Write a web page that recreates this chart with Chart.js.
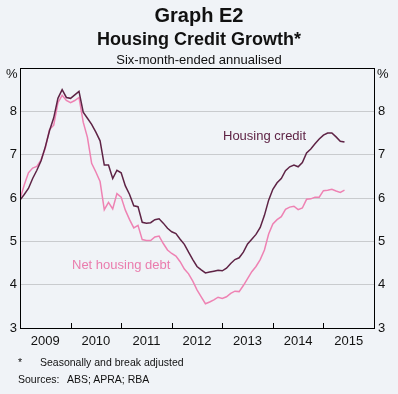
<!DOCTYPE html>
<html>
<head>
<meta charset="utf-8">
<script src="https://cdn.jsdelivr.net/npm/chart.js@4"></script>
<style>
  html, body { margin: 0; padding: 0; background: #f0f3f7; }
  #wrap { position: relative; width: 398px; height: 394px; font-family: "Liberation Sans", Arial, sans-serif; color: #111; }
  #chart { position: absolute; left: 0; top: 0; }
  .t { position: absolute; white-space: nowrap; line-height: 1; }
  .c { left: 0; width: 398px; text-align: center; }
</style>
</head>
<body>
<div id="wrap">
  <canvas id="chart" width="398" height="394"></canvas>
  <div class="t c" style="top:5px;font-size:20px;font-weight:bold;">Graph E2</div>
  <div class="t c" style="top:30px;font-size:18px;font-weight:bold;">Housing Credit Growth*</div>
  <div class="t c" style="top:53px;font-size:13px;">Six-month-ended annualised</div>
  <div class="t" style="top:67px;left:6px;font-size:13px;">%</div>
  <div class="t" style="top:67px;left:377px;font-size:13px;">%</div>
  <div class="t" style="top:129px;left:223px;font-size:13px;color:#5e2345;">Housing credit</div>
  <div class="t" style="top:258px;left:72px;font-size:13px;color:#ea7cad;">Net housing debt</div>
  <div class="t" style="top:357px;left:18px;font-size:10.5px;">*</div>
  <div class="t" style="top:357px;left:40px;font-size:10.5px;">Seasonally and break adjusted</div>
  <div class="t" style="top:374px;left:18px;font-size:10.5px;">Sources:</div>
  <div class="t" style="top:374px;left:67px;font-size:10.5px;">ABS; APRA; RBA</div>
</div>
<script>
// Monthly data, Jan 2009 to Jun 2015 (six-month-ended annualised, %)
const housingCredit = [
  5.95, 6.08, 6.22, 6.45, 6.64, 6.86, 7.18, 7.55, 7.85, 8.30, 8.50, 8.32,
  8.30, 8.38, 8.46, 7.98, 7.84, 7.70, 7.52, 7.32, 6.76, 6.76, 6.45, 6.64,
  6.58, 6.28, 6.08, 5.82, 5.80, 5.44, 5.42, 5.43, 5.50, 5.52, 5.42, 5.30,
  5.22, 5.18, 5.05, 4.93, 4.75, 4.58, 4.42, 4.34, 4.27, 4.29, 4.31, 4.33,
  4.32, 4.38, 4.49, 4.58, 4.62, 4.75, 4.94, 5.05, 5.16, 5.32, 5.60, 5.95,
  6.20, 6.35, 6.45, 6.63, 6.72, 6.76, 6.72, 6.82, 7.04, 7.13, 7.25, 7.36,
  7.45, 7.50, 7.50, 7.41, 7.31, 7.29
];
const netHousingDebt = [
  5.97, 6.30, 6.58, 6.69, 6.73, 6.88, 7.15, 7.58, 7.68, 8.20, 8.37, 8.25,
  8.20, 8.25, 8.32, 7.75, 7.40, 6.80, 6.60, 6.38, 5.73, 5.90, 5.75, 6.10,
  6.02, 5.72, 5.50, 5.31, 5.37, 5.04, 5.02, 5.02, 5.10, 5.12, 4.95, 4.80,
  4.72, 4.66, 4.53, 4.36, 4.25, 4.08, 3.88, 3.72, 3.56, 3.60, 3.65, 3.71,
  3.68, 3.72, 3.80, 3.85, 3.84, 3.98, 4.14, 4.30, 4.42, 4.58, 4.80, 5.17,
  5.40, 5.50, 5.57, 5.74, 5.79, 5.81, 5.73, 5.77, 5.97, 5.98, 6.02, 6.02,
  6.17, 6.18, 6.20, 6.16, 6.13, 6.18
];
const years = ['2009', '2010', '2011', '2012', '2013', '2014', '2015'];
const yTicks = [3, 4, 5, 6, 7, 8, 9];

// months since Jan 2009
const toPoints = arr => arr.map((v, i) => ({ x: i, y: v }));
const yearMid = years.map((y, i) => i * 12 + 6);
const yearEdges = years.slice(1).map((y, i) => (i + 1) * 12);

const frame = {
  id: 'frame',
  afterDatasetsDraw(chart) {
    const { ctx, chartArea: a, scales } = chart;
    ctx.save();
    ctx.strokeStyle = '#000';
    ctx.lineWidth = 1;
    ctx.beginPath();
    yearEdges.forEach(m => {
      const px = Math.round(scales.x.getPixelForValue(m)) + 0.5;
      ctx.moveTo(px, a.bottom);
      ctx.lineTo(px, a.bottom - 5);
    });
    ctx.stroke();
    ctx.strokeRect(Math.round(a.left) + 0.5, Math.round(a.top) + 0.5,
      Math.round(a.right - a.left), Math.round(a.bottom - a.top));
    ctx.restore();
  }
};

const tickFont = { family: '"Liberation Sans", Arial, sans-serif', size: 13 };

new Chart(document.getElementById('chart'), {
  type: 'line',
  data: {
    datasets: [
      { label: 'Housing credit', data: toPoints(housingCredit), borderColor: '#5e2345', borderWidth: 1.5 },
      { label: 'Net housing debt', data: toPoints(netHousingDebt), borderColor: '#ee82b3', borderWidth: 1.5 }
    ]
  },
  options: {
    responsive: false,
    animation: false,
    parsing: false,
    layout: { padding: { top: 68, left: 0, right: 0, bottom: 46 } },
    elements: { point: { radius: 0 }, line: { tension: 0 } },
    plugins: { legend: { display: false }, tooltip: { enabled: false } },
    scales: {
      x: {
        type: 'linear',
        min: 0,
        max: 84,
        afterBuildTicks: s => { s.ticks = yearMid.map(v => ({ value: v })); },
        afterFit: s => { s.height = 20; },
        grid: { display: false, drawTicks: false },
        border: { display: false },
        ticks: {
          padding: 6,
          color: '#111',
          font: tickFont,
          maxRotation: 0,
          autoSkip: false,
          callback: v => years[yearMid.indexOf(v)]
        }
      },
      y: {
        position: 'left',
        min: 3,
        max: 9,
        afterBuildTicks: s => { s.ticks = yTicks.map(v => ({ value: v })); },
        afterFit: s => { s.width = 20; },
        grid: {
          drawTicks: false,
          color: c => (c.tick.value === 3 || c.tick.value === 9) ? 'rgba(0,0,0,0)' : '#c9cbce'
        },
        border: { display: false },
        ticks: { padding: 3, color: '#111', font: tickFont, callback: v => v === 9 ? '' : v }
      },
      y2: {
        position: 'right',
        min: 3,
        max: 9,
        afterBuildTicks: s => { s.ticks = yTicks.map(v => ({ value: v })); },
        afterFit: s => { s.width = 24; },
        grid: { display: false, drawTicks: false },
        border: { display: false },
        ticks: { padding: 4, color: '#111', font: tickFont, callback: v => v === 9 ? '' : v }
      }
    }
  },
  plugins: [frame]
});
</script>
</body>
</html>
